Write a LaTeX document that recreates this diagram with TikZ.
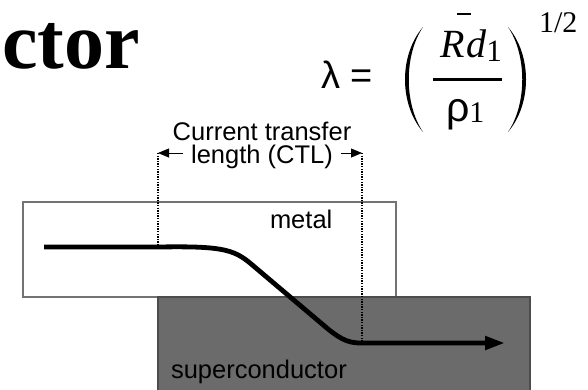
\documentclass[tikz,border=0pt]{standalone}
\usepackage{fontspec}
\setmainfont{Liberation Sans}
\newfontfamily\serifface{Liberation Serif}
\usetikzlibrary{arrows.meta,positioning}

\begin{document}
\begin{tikzpicture}[x=1pt,y=-1pt,every node/.style={inner sep=0pt,outer sep=0pt}]
  \tikzset{
    lbl/.style={font=\fontsize{25.5}{25.5}\selectfont},
    layer/.style={draw=black!55,line width=1.2pt},
    guide/.style={dash pattern=on 1.3pt off 1.3pt,line width=1.3pt,black},
    ctl/.style={-{Triangle[length=11pt,width=9pt]},line width=0.8pt},
    flow/.style={line width=4.8pt,-{Triangle[length=20pt,width=13pt]}},
    glyph/.style={fill=black,draw=none}
  }
  \useasboundingbox (0,0) rectangle (588,389);
  \node[anchor=base west,font=\serifface\bfseries\fontsize{80}{80}\selectfont] (title) at (2,68) {ctor};
  \node[anchor=base west,font=\fontsize{38}{38}\selectfont] (lam) at (321,88) {λ =};
  \fill[glyph] (423,27) .. controls (399,55) and (399,104) .. (423,132)
    .. controls (404,104) and (404,55) .. (423,27) -- cycle;
  \fill[glyph] (508,27) .. controls (532,55) and (532,104) .. (508,132)
    .. controls (527,104) and (527,55) .. (508,27) -- cycle;
  \node[anchor=base west,font=\serifface\itshape\fontsize{40}{40}\selectfont] (num) at (440,57)
    {R\kern2pt d{\upshape\fontsize{31}{31}\selectfont\raisebox{-4pt}{1}}};
  \draw[line width=2pt] (457,14) -- (471,14);
  \draw[line width=3pt] (433,79) -- (502,79);
  \node[anchor=base west,font=\fontsize{41}{41}\selectfont] (den) at (446,121)
    {ρ{\serifface\fontsize{30}{30}\selectfont\raisebox{-1pt}{1}}};
  \node[anchor=base west,font=\serifface\fontsize{30}{30}\selectfont] (pow) at (539,32) {1/2};
  \draw[layer] (23,202) rectangle (396,297);
  \filldraw[layer,fill=black!58,draw=black!70] (158,297) rectangle (530,392);
  \node[lbl,anchor=base west] (metal) at (270,228) {metal};
  \node[lbl,anchor=base west] (sc) at (171,378) {superconductor};
  \node[lbl,anchor=base] (ctltop) at (262,140) {Current transfer};
  \node[lbl,anchor=base,inner xsep=8pt] (ctlbot) at (262,163) {length (CTL)};
  \coordinate (ctlL) at (158,153);
  \coordinate (ctlR) at (362,153);
  \coordinate (start) at (44,247);
  \coordinate (curveL) at (158,247);
  \coordinate (curveR) at (362,343);
  \coordinate (finish) at (505,343);
  \draw[ctl] (ctlbot.west |- ctlL) -- (ctlL);
  \draw[ctl] (ctlbot.east |- ctlR) -- (ctlR);
  \foreach \a/\b in {ctlL/curveL,ctlR/curveR}
    \draw[guide] (\a) -- (\b);
  \draw[flow] (start) -- (curveL) .. controls (220,246) and (233,249) .. (250,263)
    -- (328,329) .. controls (343,341) and (350,343) .. (curveR) -- (finish);
\end{tikzpicture}
\end{document}
